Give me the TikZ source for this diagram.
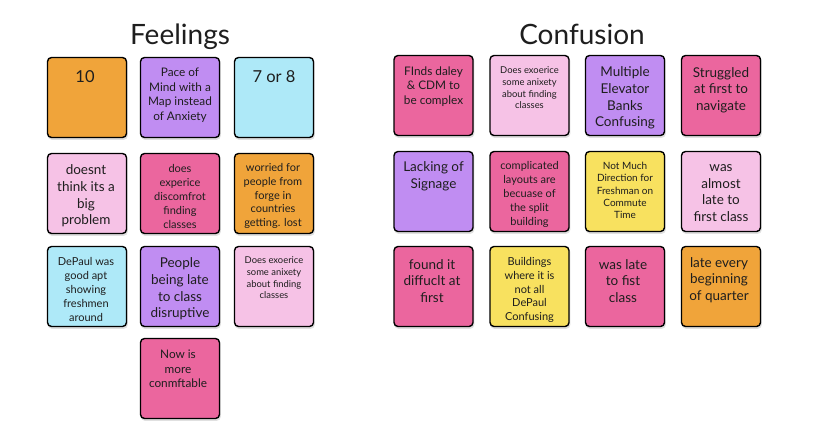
\documentclass[tikz,border=0pt]{standalone}
\usepackage{fontspec}
\setmainfont{Lato}
\definecolor{sorange}{HTML}{F0A43A}
\definecolor{spurple}{HTML}{C08DF2}
\definecolor{sblue}{HTML}{AEE9F8}
\definecolor{slpink}{HTML}{F6C2E6}
\definecolor{spink}{HTML}{EB669E}
\definecolor{syellow}{HTML}{F8E15F}
\definecolor{stext}{HTML}{1E1E1E}
\tikzset{
  sticky/.style={draw=black, line width=1.4pt, rounded corners=4pt, minimum width=79pt, minimum height=80pt, inner sep=0pt},
  shadowbox/.style={fill=black!12, rounded corners=4pt, minimum width=80pt, minimum height=81pt, inner sep=0pt, draw=none},
  txt/.style={align=center, text=stext, inner sep=0pt},
  fxl/.style={txt, font=\fontsize{16.5}{20}\selectfont},
  fl/.style={txt, font=\fontsize{13.5}{16.7}\selectfont},
  fm/.style={txt, font=\fontsize{11.8}{14.5}\selectfont},
  fs/.style={txt, font=\fontsize{11}{13.9}\selectfont},
  fxs/.style={txt, font=\fontsize{10}{12.3}\selectfont},
  ft/.style={txt, font=\fontsize{9.4}{11.6}\selectfont},
  title/.style={text=stext, inner sep=0pt, font=\fontsize{28}{32}\selectfont}
}
\begin{document}
\begin{tikzpicture}[x=1pt,y=-1pt]
\useasboundingbox (0,0) rectangle (818,442);
% titles
\node[title, anchor=base] (tf) at (180,44) {Feelings};
\node[title, anchor=base] (tc) at (582,44) {Confusion};
% shadows
\foreach \x/\y in {87/97.5,180/97.5,274/97.5,87/193.5,180/193.5,274/193.5,87/286.5,180/286.5,274/286.5,180/378.5,
  433.5/95.5,529.5/95.5,625/95.5,721/95.5,433.5/191.5,529.5/191.5,625/191.5,721/191.5,433.5/286.5,529.5/286.5,625/286.5,721/286.5}
  \node[shadowbox] at (\x+0.8,\y+1.8) {};
% Feelings boxes
\node[sticky, fill=sorange] (f1) at (87,97.5) {};
\node[sticky, fill=spurple] (f2) at (180,97.5) {};
\node[sticky, fill=sblue] (f3) at (274,97.5) {};
\node[sticky, fill=slpink] (f4) at (87,193.5) {};
\node[sticky, fill=spink] (f5) at (180,193.5) {};
\node[sticky, fill=sorange] (f6) at (274,193.5) {};
\node[sticky, fill=sblue] (f7) at (87,286.5) {};
\node[sticky, fill=spurple] (f8) at (180,286.5) {};
\node[sticky, fill=slpink] (f9) at (274,286.5) {};
\node[sticky, fill=spink] (f10) at (180,378.5) {};
% Feelings texts
\node[fxl] (tf1) at (85,77) {10};
\node[fm] (tf2) at (180,95) {Pace of\\Mind with a\\Map instead\\of Anxiety};
\node[fxl] (tf3) at (274,77) {7 or 8};
\node[fl] (tf4) at (86,196) {doesnt\\think its a\\big\\problem};
\node[fs] (tf5) at (180,196.5) {does\\experice\\discomfrot\\finding\\classes};
\node[fs] (tf6) at (273,196) {worried for\\people from\\forge in\\countries\\getting. lost};
\node[fs] (tf7) at (86,289.5) {DePaul was\\good apt\\showing\\freshmen\\around};
\node[fl] (tf8) at (180,289) {People\\being late\\to class\\disruptive};
\node[ft] (tf9) at (274,278) {Does exoerice\\some anixety\\about finding\\classes};
\node[fm] (tf10) at (178,369) {Now is\\more\\conmftable};
% Confusion boxes
\node[sticky, fill=spink] (c1) at (433.5,95.5) {};
\node[sticky, fill=slpink] (c2) at (529.5,95.5) {};
\node[sticky, fill=spurple] (c3) at (625,95.5) {};
\node[sticky, fill=spink] (c4) at (721,95.5) {};
\node[sticky, fill=spurple] (c5) at (433.5,191.5) {};
\node[sticky, fill=spink] (c6) at (529.5,191.5) {};
\node[sticky, fill=syellow] (c7) at (625,191.5) {};
\node[sticky, fill=slpink] (c8) at (721,191.5) {};
\node[sticky, fill=spink] (c9) at (433.5,286.5) {};
\node[sticky, fill=syellow] (c10) at (529.5,286.5) {};
\node[sticky, fill=spink] (c11) at (625,286.5) {};
\node[sticky, fill=sorange] (c12) at (721,286.5) {};
% Confusion texts
\node[fm] (tc1) at (433.5,86.5) {FInds daley\\\& CDM to\\be complex};
\node[ft] (tc2) at (529.5,88) {Does exoerice\\some anixety\\about finding\\classes};
\node[fl] (tc3) at (625,98) {Multiple\\Elevator\\Banks\\Confusing};
\node[fl] (tc4) at (721,90) {Struggled\\at first to\\navigate};
\node[fl] (tc5) at (433.5,176.5) {Lacking of\\Signage};
\node[fs] (tc6) at (529.5,194.5) {complicated\\layouts are\\becuase of\\the split\\building};
\node[fxs] (tc7) at (625,190.5) {Not Much\\Direction for\\Freshman on\\Commute\\Time};
\node[fl] (tc8) at (721,193) {was\\almost\\late to\\first class};
\node[fl] (tc9) at (432,281) {found it\\diffuclt at\\first};
\node[fs] (tc10) at (529.5,290) {Buildings\\where it is\\not all\\DePaul\\Confusing};
\node[fl] (tc11) at (623,281) {was late\\to fist\\class};
\node[fl] (tc12) at (719,280) {late every\\beginning\\of quarter};
\end{tikzpicture}
\end{document}
